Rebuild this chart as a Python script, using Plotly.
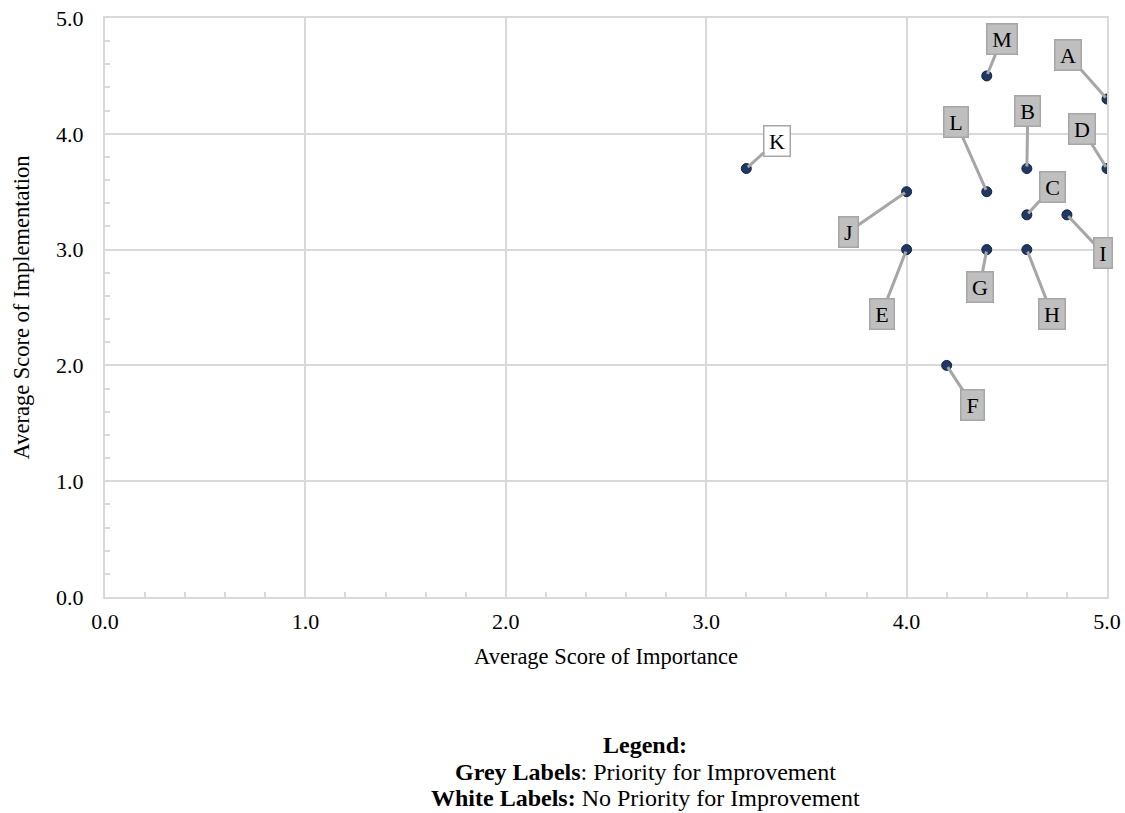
import plotly.graph_objects as go

# ---- data ----
labels = ["A", "B", "C", "D", "E", "F", "G", "H", "I", "J", "K", "L", "M"]
importance = [5.0, 4.6, 4.6, 5.0, 4.0, 4.2, 4.4, 4.6, 4.8, 4.0, 3.2, 4.4, 4.4]
implementation = [4.3, 3.7, 3.3, 3.7, 3.0, 2.0, 3.0, 3.0, 3.3, 3.5, 3.7, 3.5, 4.5]
priority = [True, True, True, True, True, True, True, True, True, True, False, True, True]
tick_vals = [0, 1, 2, 3, 4, 5]
tick_text = ["0.0", "1.0", "2.0", "3.0", "4.0", "5.0"]

# label box offsets in pixels (styling/positioning)
label_offsets = {
    "A": (-39, -44), "B": (1, -58), "C": (26, -28), "D": (-25, -40),
    "E": (-25, 64), "F": (26, 40), "G": (-7, 37), "H": (25, 64),
    "I": (36, 38), "J": (-58, 40), "K": (31, -28), "L": (-31, -70),
    "M": (15, -37),
}
# approximate glyph widths (em) used to size the label boxes
glyph_em = {"A": .722, "B": .667, "C": .667, "D": .722, "E": .611, "F": .556,
            "G": .722, "H": .722, "I": .333, "J": .389, "K": .722, "L": .611,
            "M": .889}

FONT = "Liberation Serif"
GRID = "#D9D9D9"
LBL_SIZE = 22

fig = go.Figure()
fig.add_trace(go.Scatter(
    x=importance, y=implementation, mode="markers",
    marker=dict(size=10, color="#1F3864", line=dict(color="#14213D", width=1)),
    hoverinfo="skip", showlegend=False,
))

for lab, xv, yv, pr in zip(labels, importance, implementation, priority):
    ax, ay = label_offsets[lab]
    fig.add_annotation(
        x=xv, y=yv, text=lab, showarrow=True, ax=ax, ay=ay,
        arrowhead=0, arrowwidth=3, arrowcolor="#A6A6A6", standoff=2,
        bgcolor="#BFBFBF" if pr else "#FFFFFF",
        bordercolor="#A6A6A6", borderwidth=1.5, borderpad=2,
        width=round(glyph_em[lab] * LBL_SIZE + 5.5), height=25,
        font=dict(family=FONT, size=LBL_SIZE, color="black"),
    )

legend_lines = [
    "<b>Legend:</b>",
    "<b>Grey Labels</b>: Priority for Improvement",
    "<b>White Labels:</b> No Priority for Improvement",
]
legend_y = [-0.2556, -0.3022, -0.3472]
for txt, ly in zip(legend_lines, legend_y):
    fig.add_annotation(
        xref="paper", yref="paper", x=0.539, y=ly, xanchor="center", yanchor="middle",
        showarrow=False, text=txt,
        font=dict(family=FONT, size=24, color="black"),
    )

axis_common = dict(
    range=[0, 5], tickvals=tick_vals, ticktext=tick_text,
    showgrid=True, gridcolor=GRID, gridwidth=1.5,
    showline=True, linecolor=GRID, linewidth=2, mirror=True,
    ticks="inside", ticklen=5, tickcolor=GRID, tickwidth=1.5,
    minor=dict(dtick=0.2, ticks="inside", ticklen=5, tickcolor=GRID,
               tickwidth=1.5, showgrid=False),
    tickfont=dict(family=FONT, size=22, color="black"),
    ticklabeloverflow="allow",
    zeroline=False, fixedrange=True,
)

fig.update_layout(
    width=1125, height=813,
    margin=dict(l=105, r=18, t=18, b=216),
    plot_bgcolor="white", paper_bgcolor="white",
    xaxis=dict(**axis_common, ticklabelstandoff=4, automargin=False,
               title=dict(text="Average Score of Importance",
                          font=dict(family=FONT, size=22.5, color="black"))),
    yaxis=dict(**axis_common, ticklabelstandoff=15, automargin="left",
               title=dict(text="Average Score of Implementation", standoff=20,
                          font=dict(family=FONT, size=22.5, color="black"))),
)

fig.write_html(
    "out.html",
    config={"displayModeBar": False},
    post_script="document.body.style.margin='0';document.body.style.overflow='hidden';",
)
